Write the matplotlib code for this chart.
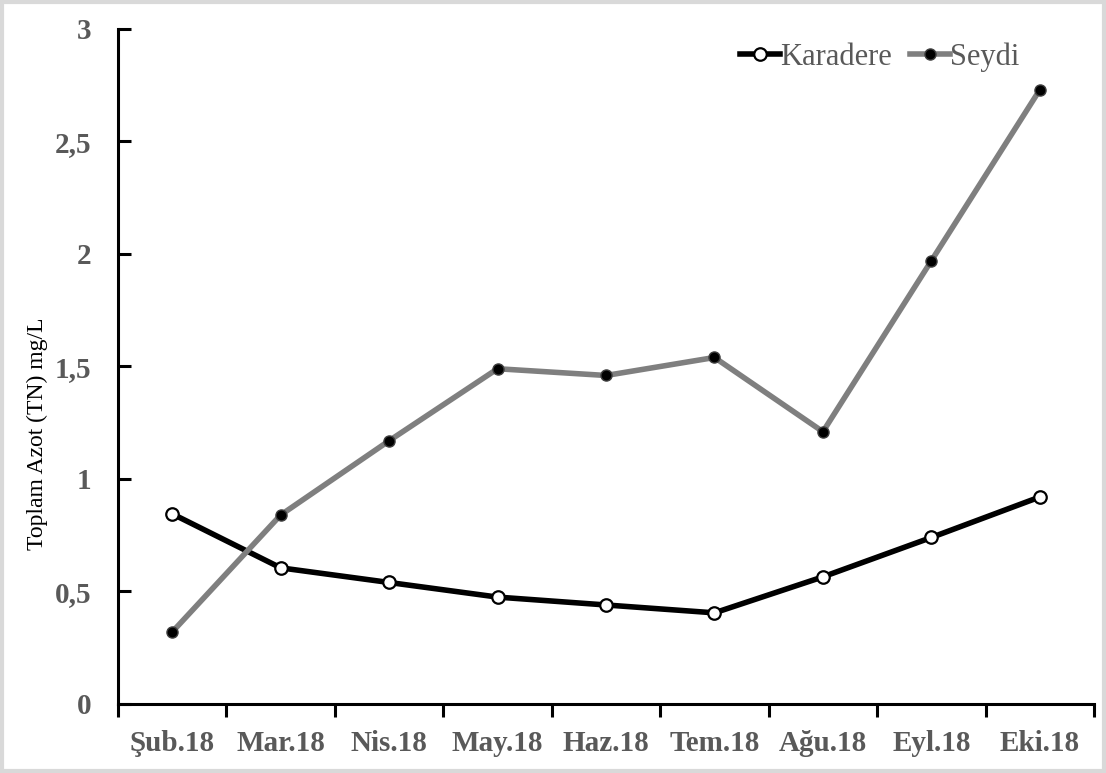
import matplotlib
matplotlib.use("Agg")
import matplotlib.pyplot as plt
from matplotlib.ticker import FixedLocator, FuncFormatter
import numpy as np

months = ["Şub.18", "Mar.18", "Nis.18", "May.18", "Haz.18", "Tem.18", "Ağu.18", "Eyl.18", "Eki.18"]
karadere = [0.845, 0.605, 0.54, 0.475, 0.44, 0.405, 0.565, 0.74, 0.92]
seydi = [0.32, 0.84, 1.17, 1.49, 1.46, 1.54, 1.21, 1.97, 2.73]
y_ticks = [0, 0.5, 1, 1.5, 2, 2.5, 3]

plt.rcParams["font.family"] = ["Liberation Serif", "DejaVu Serif"]
label_gray = "#595959"

fig = plt.figure(figsize=(11.06, 7.73), dpi=100)
ax = fig.add_axes([0.1067, 0.0893, 0.8825, 0.8732])

x = np.arange(len(months))
ax.plot(x, karadere, color="black", lw=4, marker="o", ms=9, mfc="white",
        mec="black", mew=1.6, label="Karadere", zorder=3)
ax.plot(x, seydi, color="#7f7f7f", lw=4, marker="o", ms=8, mfc="black",
        mec="#404040", mew=1, label="Seydi", zorder=3)

ax.set_xlim(-0.5, len(months) - 0.5)
ax.set_ylim(0, 3)

ax.set_xticks(x)
ax.set_xticklabels(months, fontsize=21, fontweight="bold", color=label_gray)
ax.xaxis.set_minor_locator(FixedLocator(np.arange(-0.5, len(months), 1.0)))
ax.tick_params(axis="x", which="major", length=0, pad=19)
ax.tick_params(axis="x", which="minor", length=9, width=2.2, direction="out", color="black")

ax.set_yticks(y_ticks)
ax.yaxis.set_major_formatter(FuncFormatter(lambda v, p: ("%g" % v).replace(".", ",")))
ax.tick_params(axis="y", length=9, width=2.2, direction="in", pad=19, labelsize=21,
               labelcolor=label_gray)
for lab in ax.get_yticklabels():
    lab.set_fontweight("bold")

ax.set_ylabel("Toplam Azot (TN) mg/L", fontsize=17, color="black")
ax.yaxis.set_label_coords(-0.072, 0.4)

for side in ("top", "right"):
    ax.spines[side].set_visible(False)
for side in ("left", "bottom"):
    ax.spines[side].set_linewidth(2.2)
    ax.spines[side].set_color("black")

leg = ax.legend(loc="upper right", bbox_to_anchor=(0.945, 1.012), ncol=2, frameon=False,
                fontsize=22, handlelength=1.3, handletextpad=0.0, columnspacing=0.6,
                borderaxespad=0.3)
for t in leg.get_texts():
    t.set_color(label_gray)

# thin light frame around the whole figure
fig.patches.append(plt.Rectangle((0.002, 0.003), 0.996, 0.994, transform=fig.transFigure,
                                 fill=False, edgecolor="#d9d9d9", lw=3))

fig.savefig("out.png", dpi=100)
